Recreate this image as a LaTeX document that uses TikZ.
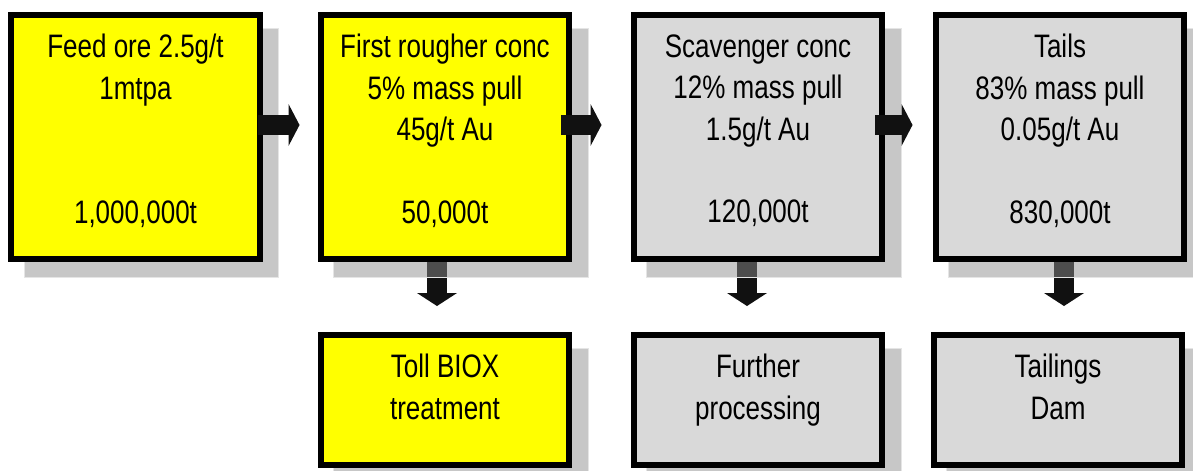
\documentclass[tikz,border=0pt]{standalone}
\usepackage{fontspec}
\setmainfont{Liberation Sans}[FakeStretch=0.8]
\usepackage{tikz}
\usetikzlibrary{arrows.meta,backgrounds}
\definecolor{oreyellow}{HTML}{FFFF00}
\definecolor{oregray}{HTML}{D9D9D9}
\definecolor{arrowblack}{HTML}{111111}

\begin{document}
\begin{tikzpicture}[x=0.02cm, y=-0.02cm,
  flowbox/.style={draw=black, line width=0.12cm, minimum width=4.98cm, minimum height=4.88cm, inner sep=0pt},
  lowbox/.style={flowbox, minimum height=2.6cm},
  boxtext/.style={anchor=north, inner sep=0pt, align=center, font=\fontsize{18.5}{23.6}\selectfont},
  boxshadow/.style={fill=black!45, fill opacity=0.49, draw=black!10, line width=0.02cm},
  rightarrow/.style={draw=arrowblack, line width=0.4cm, -{Triangle[width=0.84cm, length=0.22cm, line width=0pt]}},
  downarrow/.style={draw=arrowblack, line width=0.4cm, -{Triangle[width=0.8cm, length=0.26cm, line width=0pt]}}]
  \useasboundingbox (0,0) rectangle (1193,470);

  % upper row
  \node[flowbox, fill=oreyellow] (feed) at (135.5,137) {};
  \node[flowbox, fill=oreyellow] (rougher) at (445,137) {};
  \node[flowbox, fill=oregray] (scav) at (758,137) {};
  \node[flowbox, fill=oregray] (tails) at (1060,137) {};
  % lower row
  \node[lowbox, fill=oreyellow] (biox) at (445,400) {};
  \node[lowbox, fill=oregray] (further) at (758,400) {};
  \node[lowbox, fill=oregray] (dam) at (1058,400) {};

  \node[boxtext] (feedtext) at ([yshift=-0.44cm]feed.north) {Feed ore 2.5g/t\\1mtpa\\~\\~\\1,000,000t};
  \node[boxtext] (roughertext) at ([yshift=-0.44cm]rougher.north) {First rougher conc\\5\% mass pull\\45g/t Au\\~\\50,000t};
  \node[boxtext] (scavtext) at ([yshift=-0.44cm]scav.north) {Scavenger conc\\12\% mass pull\\1.5g/t Au\\~\\120,000t};
  \node[boxtext] (tailstext) at ([yshift=-0.44cm]tails.north) {Tails\\83\% mass pull\\0.05g/t Au\\~\\830,000t};
  \node[boxtext] (biotext) at ([yshift=-0.44cm]biox.north) {Toll BIOX\\treatment};
  \node[boxtext] (furthertext) at ([yshift=-0.44cm]further.north) {Further\\processing};
  \node[boxtext] (damtext) at ([yshift=-0.44cm]dam.north) {Tailings\\Dam};

  % down arrows and shadows
  \begin{scope}[on background layer]
    \draw[downarrow] ([shift={(-8,0)}]rougher.south) -- ([shift={(-8,-26)}]biox.north);
    \draw[downarrow] ([shift={(-11,0)}]scav.south) -- ([shift={(-11,-26)}]further.north);
    \draw[downarrow] ([shift={(4,0)}]tails.south) -- ([shift={(6,-26)}]dam.north);
    \foreach \b in {feed,rougher,scav,tails,biox,further,dam}
    {
    \draw[boxshadow] ([shift={(16,16)}]\b.north west) rectangle ([shift={(16,16)}]\b.south east);
    }
  \end{scope}

  % flow to the right
  \draw[rightarrow] ([shift={(-5,-12)}]feed.east) -- ([shift={(-18,-12)}]rougher.west);
  \draw[rightarrow] ([shift={(-11,-12)}]rougher.east) -- ([shift={(-29,-12)}]scav.west);
  \draw[rightarrow] ([shift={(-10,-12)}]scav.east) -- ([shift={(-20,-12)}]tails.west);
\end{tikzpicture}
\end{document}
